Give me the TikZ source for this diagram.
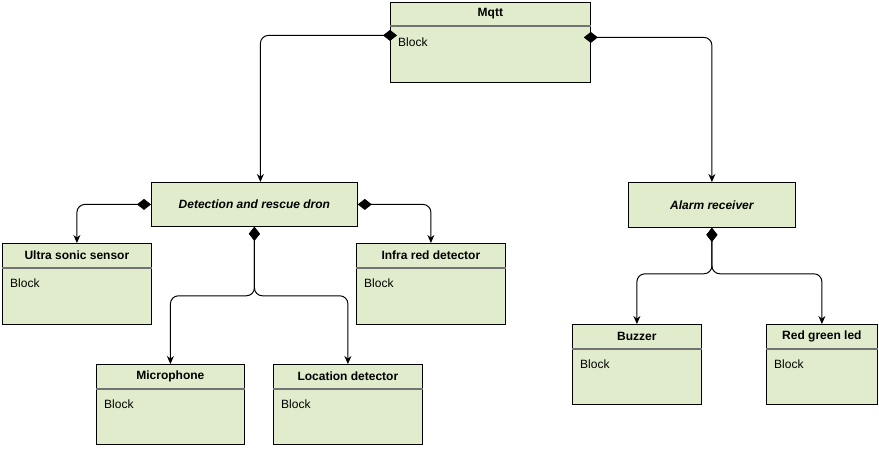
\documentclass[tikz,border=0pt]{standalone}
\usepackage{fontspec}
\setmainfont{Liberation Sans}
\usetikzlibrary{arrows.meta,positioning,calc}
\definecolor{blockgreen}{RGB}{224,236,203}

\begin{document}
\begin{tikzpicture}[x=1pt,y=-1pt,
  blk/.style={draw=black,fill=blockgreen,line width=0.8pt,anchor=north west,inner sep=0pt},
  ttl/.style={font=\fontsize{12}{14}\selectfont\bfseries,inner sep=0pt},
  absttl/.style={font=\fontsize{12}{14}\selectfont\bfseries\itshape,inner sep=0pt},
  body/.style={font=\fontsize{12}{14}\selectfont,anchor=west,inner sep=0pt},
  sep/.style={draw=black!55,line width=1.2pt},
  comp/.style={{Diamond[length=14pt,width=11pt]}-{Stealth[length=8pt,width=7pt]},line width=1pt,rounded corners=8pt}]
  \useasboundingbox (0,0) rectangle (879,451);

  % top block
  \node[blk,minimum width=200pt,minimum height=80pt] (mqtt) at (390,2) {};
  \draw[sep] ([yshift=-24pt]mqtt.north west) -- ([yshift=-24pt]mqtt.north east);
  \node[ttl] (mqtt-t) at ([yshift=-12pt]mqtt.north) {Mqtt};
  \node[body] (mqtt-b) at ([xshift=8pt,yshift=-40pt]mqtt.north west) {Block};

  % abstract blocks
  \node[blk,minimum width=206pt,minimum height=44pt] (det) at (151,182) {};
  \node[absttl] (det-t) at (det.center) {Detection and rescue dron};
  \node[blk,minimum width=167pt,minimum height=45pt] (alarm) at (628,182) {};
  \node[absttl] (alarm-t) at (alarm.center) {Alarm receiver};

  % parts of the dron
  \node[blk,minimum width=149pt,minimum height=81pt] (ultra) at (2,243) {};
  \draw[sep] ([yshift=-25pt]ultra.north west) -- ([yshift=-25pt]ultra.north east);
  \node[ttl] (ultra-t) at ([yshift=-12pt]ultra.north) {Ultra sonic sensor};
  \node[body] (ultra-b) at ([xshift=8pt,yshift=-40pt]ultra.north west) {Block};

  \node[blk,minimum width=149pt,minimum height=81pt] (infra) at (356,243) {};
  \draw[sep] ([yshift=-25pt]infra.north west) -- ([yshift=-25pt]infra.north east);
  \node[ttl] (infra-t) at ([yshift=-12pt]infra.north) {Infra red detector};
  \node[body] (infra-b) at ([xshift=8pt,yshift=-40pt]infra.north west) {Block};

  \node[blk,minimum width=148pt,minimum height=80pt] (mic) at (96,364) {};
  \draw[sep] ([yshift=-25pt]mic.north west) -- ([yshift=-25pt]mic.north east);
  \node[ttl] (mic-t) at ([yshift=-12pt]mic.north) {Microphone};
  \node[body] (mic-b) at ([xshift=8pt,yshift=-40pt]mic.north west) {Block};

  \node[blk,minimum width=149pt,minimum height=80pt] (loc) at (273,364) {};
  \draw[sep] ([yshift=-25pt]loc.north west) -- ([yshift=-25pt]loc.north east);
  \node[ttl] (loc-t) at ([yshift=-12pt]loc.north) {Location detector};
  \node[body] (loc-b) at ([xshift=8pt,yshift=-40pt]loc.north west) {Block};

  % parts of the receiver
  \node[blk,minimum width=129pt,minimum height=80pt] (buzz) at (572,324) {};
  \draw[sep] ([yshift=-25pt]buzz.north west) -- ([yshift=-25pt]buzz.north east);
  \node[ttl] (buzz-t) at ([yshift=-12pt]buzz.north) {Buzzer};
  \node[body] (buzz-b) at ([xshift=8pt,yshift=-40pt]buzz.north west) {Block};

  \node[blk,minimum width=111pt,minimum height=80pt] (led) at (766,324) {};
  \draw[sep] ([yshift=-25pt]led.north west) -- ([yshift=-25pt]led.north east);
  \node[ttl] (led-t) at ([yshift=-12pt]led.north) {Red green led};
  \node[body] (led-b) at ([xshift=8pt,yshift=-40pt]led.north west) {Block};

  % composition
  \draw[comp] ([xshift=7pt,yshift=7pt]mqtt.west) -| ([xshift=6pt]det.north);
  \draw[comp] ([xshift=-7pt,yshift=5pt]mqtt.east) -| (alarm.north);
  \draw[comp] (det.west) -| (ultra.north);
  \draw[comp] (det.east) -| (infra.north);
  \coordinate (detsplit) at ($(det.south)+(0,69)$);
  \draw[comp] (det.south) -- (detsplit) -| (mic.north);
  \draw[comp] (det.south) -- (detsplit) -| (loc.north);
  \coordinate (alarmsplit) at ($(alarm.south)+(0,46)$);
  \draw[comp] (alarm.south) -- (alarmsplit) -| (buzz.north);
  \draw[comp] (alarm.south) -- (alarmsplit) -| (led.north);
\end{tikzpicture}
\end{document}
